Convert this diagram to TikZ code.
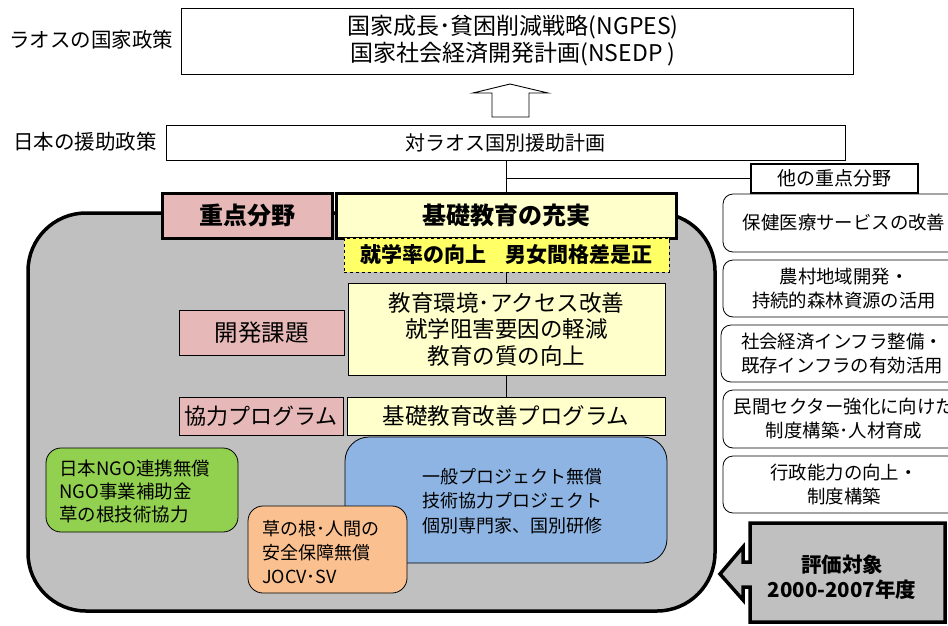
\documentclass[tikz,border=0pt]{standalone}
\usepackage{fontspec}
\setmainfont{Noto Sans CJK JP}
\definecolor{graybg}{HTML}{C0C0C0}
\definecolor{pinkbox}{HTML}{E6B8B7}
\definecolor{lightyel}{HTML}{FFFFCC}
\definecolor{dashyel}{HTML}{FFFF66}
\definecolor{bluebox}{HTML}{8DB4E2}
\definecolor{greenbox}{HTML}{92D050}
\definecolor{orangebox}{HTML}{FAC090}
\newcommand{\fs}[2]{\fontsize{#1}{#2}\selectfont}
\tikzset{
  thinbox/.style={draw, line width=0.8pt, inner sep=0pt, align=center},
  thickbox/.style={draw, line width=3pt, inner sep=0pt, align=center},
  sidebox/.style={draw, line width=0.8pt, rounded corners=10pt, fill=white, inner sep=0pt, align=center,
     minimum width=242pt, font=\fs{18.4}{24}},
  lbl/.style={inner sep=0pt, font=\fs{20.5}{24}},
  conn/.style={line width=0.8pt},
}
\begin{document}
\begin{tikzpicture}[x=1pt,y=-1pt]
\useasboundingbox (0,0) rectangle (948,625);
% big gray rounded area
\draw[line width=3.5pt, fill=graybg, rounded corners=58pt] (28,213) rectangle (715,611);
% top boxes
\node[thinbox, minimum width=672pt, minimum height=66pt] (nat) at (517,41) {};
\node[font=\fs{23}{27}, align=center, inner sep=0pt] (natt) at (513,41) {国家成長･貧困削減戦略(NGPES)\\国家社会経済開発計画(NSEDP )};
\node[lbl, anchor=west] (lao) at (9,40) {ラオスの国家政策};
\node[thinbox, minimum width=679pt, minimum height=35pt, font=\fs{20}{24}] (aid) at (505.5,142.5) {対ラオス国別援助計画};
\node[lbl, anchor=west] (jp) at (13,142) {日本の援助政策};
% hollow up arrow
\draw[line width=0.9pt, fill=white] (492,117) -- (529,117) -- (529,93) -- (548,93) -- (510,84) -- (473,93) -- (492,93) -- cycle;
% other priority label
\node[thickbox, line width=2.5pt, fill=white, minimum width=167pt, minimum height=29pt, font=\fs{19}{24}] (other) at (834.5,178.5) {他の重点分野};
% main column boxes
\node[thickbox, fill=pinkbox, minimum width=170pt, minimum height=45pt, font=\bfseries\fs{24}{26}] (juten) at (247,215.5) {重点分野};
\node[thickbox, fill=lightyel, minimum width=340pt, minimum height=45pt, font=\bfseries\fs{24}{26}] (kiso) at (506,215.5) {基礎教育の充実};
\node[draw, dashed, line width=0.9pt, fill=dashyel, inner sep=0pt, minimum width=325pt, minimum height=34pt, font=\bfseries\fs{21}{24}] (goal) at (506.5,255) {就学率の向上\hspace{0.9em}男女間格差是正};
\node[thinbox, fill=lightyel, minimum width=317pt, minimum height=92pt, font=\fs{22.5}{26.5}] (kadai) at (506.5,329) {教育環境･アクセス改善\\就学阻害要因の軽減\\教育の質の向上};
\node[thinbox, fill=pinkbox, minimum width=165pt, minimum height=45pt, font=\fs{23.5}{26}] (kaihatsu) at (261.5,332.5) {開発課題};
\node[thinbox, fill=pinkbox, minimum width=164pt, minimum height=38pt, font=\fs{22}{26}] (kyoryoku) at (261,416) {協力プログラム};
\node[thinbox, fill=lightyel, minimum width=318pt, minimum height=38pt, font=\fs{22.5}{26}] (prog) at (506,416) {基礎教育改善プログラム};
% connectors
\draw[conn] (kiso.north) -- (kiso.north |- aid.south);
\coordinate (br) at (kiso.north |- other.west);
\draw[conn] (br) -- (other.west);
\draw[conn] (goal.south) -- (goal.south |- kadai.north);
\draw[conn] (kadai.south) -- (kadai.south |- prog.north);
% schemes
\node[draw, line width=0.8pt, fill=bluebox, rounded corners=24pt, minimum width=322pt, minimum height=126pt] (blue) at (506,500) {};
\node[font=\fs{18}{24.5}, align=center, inner sep=0pt] (bluet) at (512,501) {一般プロジェクト無償\\技術協力プロジェクト\\個別専門家、国別研修};
\node[draw, line width=0.8pt, fill=greenbox, rounded corners=15pt, minimum width=192pt, minimum height=84pt] (green) at (142,490) {};
\node[font=\fs{18.5}{23}, align=left, inner sep=0pt, anchor=west] (greent) at (59,491) {日本NGO連携無償\\NGO事業補助金\\草の根技術協力};
\node[draw, line width=0.8pt, fill=orangebox, rounded corners=15pt, minimum width=159pt, minimum height=87pt] (orange) at (327.5,549.5) {};
\node[font=\fs{18}{24}, align=left, inner sep=0pt, anchor=west] (oranget) at (262,552) {草の根･人間の\\安全保障無償\\JOCV･SV};
% right column
\node[sidebox, minimum height=58pt] (s1) at (844,223) {保健医療サービスの改善};
\node[sidebox, minimum height=57pt] (s2) at (844,288.5) {農村地域開発・\\持続的森林資源の活用};
\node[sidebox, minimum height=57pt] (s3) at (842,353.5) {社会経済インフラ整備・\\既存インフラの有効活用};
\node[sidebox, minimum height=58pt] (s4) at (844,419) {民間セクター強化に向けた\\制度構築･人材育成};
\node[sidebox, minimum height=57pt] (s5) at (844,484.5) {行政能力の向上・\\制度構築};
% evaluation arrow
\draw[line width=3.5pt, fill=graybg, line join=miter] (750,523) -- (945,523) -- (945,622) -- (750,622) -- (750,587) -- (743,587) -- (743,600) -- (720,574) -- (743,547) -- (743,562) -- (750,562) -- cycle;
\node[font=\bfseries\fs{20.5}{25}, align=center, inner sep=0pt] (eval) at (842,577) {評価対象\\2000-2007年度};
\end{tikzpicture}
\end{document}
